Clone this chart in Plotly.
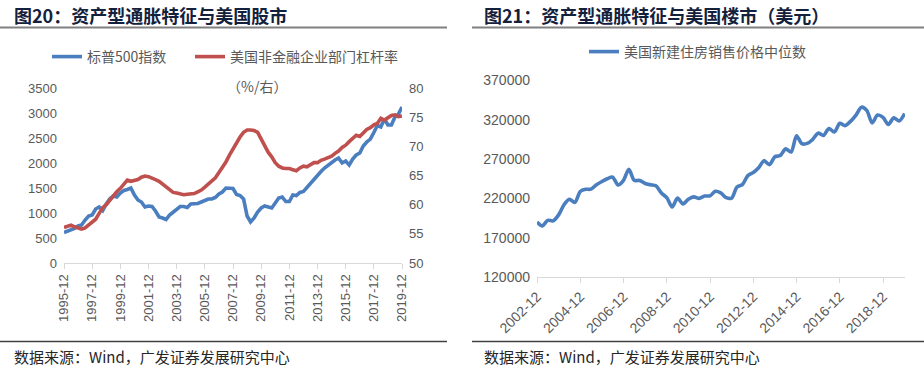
import pandas as pd
import plotly.graph_objects as go

# ---------------- data ----------------
# Left chart: quarterly, 1995-12 .. 2019-12
sp500 = [610,
         640, 660, 690, 740,
         760, 860, 940, 960,
         1080, 1120, 1050, 1180,
         1280, 1340, 1320, 1400,
         1450, 1470, 1500, 1360,
         1260, 1220, 1120, 1140,
         1130, 1040, 920, 900,
         870, 960, 1010, 1080,
         1130, 1130, 1110, 1180,
         1190, 1190, 1220, 1250,
         1280, 1280, 1310, 1380,
         1420, 1500, 1500, 1490,
         1370, 1350, 1280, 940,
         820, 900, 1020, 1100,
         1140, 1120, 1100, 1200,
         1300, 1320, 1230, 1230,
         1360, 1350, 1410, 1430,
         1510, 1600, 1680, 1770,
         1830, 1900, 1960, 2010,
         2060, 2100, 2000, 2040,
         1960, 2080, 2160, 2200,
         2340, 2420, 2480, 2610,
         2750, 2720, 2880, 2760,
         2760, 2920, 2980, 3120]
leverage = [56.1,
            56.3, 56.5, 56.2, 56.0,
            55.8, 56.0, 56.5, 57.0,
            57.5, 58.5, 59.5, 60.0,
            60.8, 61.5, 62.2, 62.8,
            63.5, 64.2, 64.0, 64.2,
            64.3, 64.7, 64.9, 64.8,
            64.6, 64.3, 64.0, 63.5,
            63.0, 62.6, 62.1, 62.0,
            61.8, 61.7, 61.8, 61.8,
            61.9, 62.2, 62.5, 63.0,
            63.5, 64.0, 64.6, 65.5,
            66.3, 67.3, 68.5, 69.6,
            70.6, 71.6, 72.4, 72.8,
            72.8, 72.7, 72.4, 71.2,
            70.2, 69.0, 68.2, 67.2,
            66.6, 66.3, 66.2, 66.2,
            66.0, 65.8, 66.3, 66.6,
            66.5, 66.9, 67.2, 67.2,
            67.6, 67.8, 68.0, 68.3,
            68.8, 69.2, 69.8, 70.2,
            70.8, 71.4, 71.9, 71.7,
            72.4, 72.9, 73.2, 73.7,
            73.9, 74.8, 74.5, 74.9,
            75.3, 75.4, 75.1, 75.2]
left_dates = pd.date_range("1995-12-31", periods=len(sp500), freq="QE")
left_ticks = ["1995-12", "1997-12", "1999-12", "2001-12", "2003-12", "2005-12",
              "2007-12", "2009-12", "2011-12", "2013-12", "2015-12", "2017-12", "2019-12"]

# Right chart: quarterly, 2002-12 .. 2019-12
house_price = [190000, 185000, 192000, 191500, 199000, 212000, 219000, 215000,
               228800, 231500, 231800, 237300, 241500, 245000, 247000, 237000,
               243000, 257000, 243000, 242800, 239000, 237300, 236000, 227000,
               221000, 209000, 220400, 213000, 219000, 222000, 220000, 223000,
               223300, 229000, 227000, 221000, 220400, 234500, 237500, 249000,
               253000, 259000, 268000, 263000, 273000, 274500, 283000, 279000,
               299800, 289600, 290000, 295000, 303000, 300000, 309000, 304500,
               315500, 312600, 318000, 326000, 336000, 332000, 316000, 326000,
               323000, 314000, 322500, 318500, 327900]
right_dates = pd.date_range("2002-12-31", periods=len(house_price), freq="QE")
right_ticks = ["2002-12", "2004-12", "2006-12", "2008-12", "2010-12",
               "2012-12", "2014-12", "2016-12", "2018-12"]

# ---------------- style ----------------
W, H = 924, 369
BLUE = "#4A7EBF"
RED = "#C0504D"
GREY = "#595959"
AXIS = "#D9D9D9"
TITLE = "#14213D"
CJK = "Noto Sans CJK SC"
NUM = "Liberation Sans, Arial"


def px(x):
    return x / W


def py(y):
    return 1 - y / H


def to_date(label):
    return pd.Timestamp(label + "-01") + pd.offsets.MonthEnd(0)


fig = go.Figure()
fig.add_trace(go.Scatter(x=left_dates, y=sp500, name="标普500指数", mode="lines",
                         line=dict(color=BLUE, width=3.6), xaxis="x", yaxis="y",
                         legend="legend"))
fig.add_trace(go.Scatter(x=left_dates, y=leverage, name="美国非金融企业部门杠杆率", mode="lines",
                         line=dict(color=RED, width=3.6), xaxis="x", yaxis="y2",
                         legend="legend3"))
fig.add_trace(go.Scatter(x=right_dates, y=house_price, name="美国新建住房销售价格中位数",
                         mode="lines", line=dict(color=BLUE, width=3.6, shape="spline", smoothing=0.8),
                         xaxis="x3", yaxis="y3", legend="legend2"))

tickfont = dict(family=NUM, size=13, color=GREY)
tickfont_r = dict(family=NUM, size=14, color=GREY)
legfont = dict(family=CJK, size=14, color=GREY)

fig.update_layout(
    width=W, height=H, margin=dict(l=0, r=0, t=0, b=0, autoexpand=False),
    paper_bgcolor="white", plot_bgcolor="white",
    xaxis=dict(domain=[px(64), px(402)], anchor="y", type="date", automargin=False,
               range=[to_date("1995-12"), to_date("2019-12")],
               tickvals=[to_date(t) for t in left_ticks], ticktext=left_ticks,
               tickangle=-90, tickfont=tickfont, showgrid=False, zeroline=False,
               showline=True, linecolor=AXIS, linewidth=1,
               ticks="outside", ticklen=5, tickcolor=AXIS),
    yaxis=dict(domain=[py(263), py(88)], anchor="x", range=[0, 3500], dtick=500,
               automargin=False,
               tickfont=tickfont, showgrid=False, zeroline=False, showline=False,
               ticks="", ticklabelstandoff=6),
    yaxis2=dict(overlaying="y", side="right", anchor="x", range=[50, 80], dtick=5,
                automargin=False,
                tickfont=tickfont, showgrid=False, zeroline=False, showline=False,
                ticks="", ticklabelstandoff=6),
    xaxis3=dict(domain=[px(537), px(905)], anchor="y3", type="date", automargin=False,
                range=[to_date("2002-12"), pd.Timestamp("2020-01-06")],
                tickvals=[to_date(t) for t in right_ticks], ticktext=right_ticks,
                tickangle=-45, tickfont=tickfont_r, showgrid=False, zeroline=False,
                showline=True, linecolor=AXIS, linewidth=1,
                ticks="outside", ticklen=5, tickcolor=AXIS),
    yaxis3=dict(domain=[py(277), py(80.5)], anchor="x3", range=[120000, 370000],
                tick0=120000, dtick=50000, automargin=False,
                tickformat="d", tickfont=tickfont_r, showgrid=False, zeroline=False,
                showline=False, ticks="", ticklabelstandoff=6),
    legend=dict(orientation="h", x=px(47), y=py(57), xanchor="left", yanchor="middle",
                font=legfont, bgcolor="rgba(0,0,0,0)"),
    legend3=dict(orientation="h", x=px(190), y=py(57), xanchor="left", yanchor="middle",
                 font=legfont, bgcolor="rgba(0,0,0,0)"),
    legend2=dict(orientation="h", x=px(584), y=py(52), xanchor="left", yanchor="middle",
                 font=legfont, bgcolor="rgba(0,0,0,0)"),
    showlegend=True,
)

# titles, rules, source notes
annots = [
    dict(text="<b>图20：资产型通胀特征与美国股市</b>", x=px(12), y=py(15)),
    dict(text="<b>图21：资产型通胀特征与美国楼市（美元）</b>", x=px(482), y=py(15)),
]
for a in annots:
    fig.add_annotation(xref="paper", yref="paper", xanchor="left", yanchor="middle",
                       showarrow=False, font=dict(family=CJK, size=18, color=TITLE), **a)

for x0 in (12, 482):
    fig.add_annotation(text="数据来源：Wind，广发证券发展研究中心", xref="paper", yref="paper",
                       x=px(x0), y=py(356), xanchor="left", yanchor="middle", showarrow=False,
                       font=dict(family=CJK, size=15, color="#262626"))

fig.add_annotation(text="（%/右）", xref="paper", yref="paper", x=px(257), y=py(86),
                   xanchor="center", yanchor="middle", showarrow=False,
                   font=dict(family=CJK, size=14, color=GREY))

for (x0, x1) in ((0, 447), (472, 924)):
    fig.add_shape(type="line", xref="paper", yref="paper", x0=px(x0), x1=px(x1),
                  y0=py(27.5), y1=py(27.5), line=dict(color="#808080", width=2))
    fig.add_shape(type="line", xref="paper", yref="paper", x0=px(x0), x1=px(x1),
                  y0=py(341.5), y1=py(341.5), line=dict(color="#404040", width=1.5))

fig.write_html("out.html", config={"displayModeBar": False},
               post_script="document.body.style.margin='0';"
                           "document.body.style.overflow='hidden';")
